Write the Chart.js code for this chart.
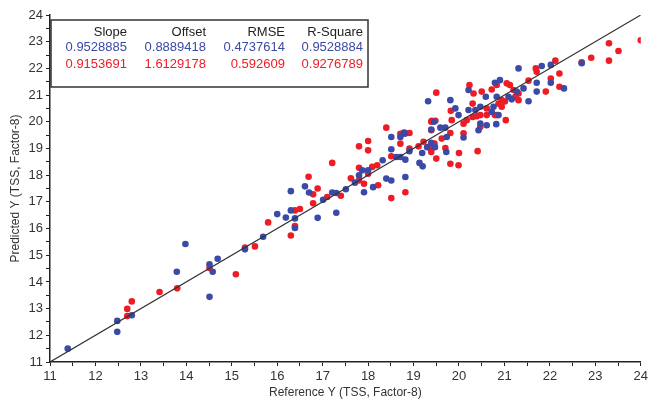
<!DOCTYPE html>
<html>
<head>
<meta charset="utf-8">
<script src="https://cdn.jsdelivr.net/npm/chart.js@4/dist/chart.umd.min.js"></script>
<style>
  html, body { margin: 0; padding: 0; background: #fff; }
  #wrap { width: 651px; height: 400px; position: relative; }
</style>
</head>
<body>
<div id="wrap"><canvas id="chart"></canvas></div>
<script>
// blue series (reference vs predicted)
const blueX = [11.39, 12.48, 12.48, 12.80, 13.79, 13.98, 14.51, 14.51, 14.58, 14.69, 15.29, 15.69, 16.00, 16.19, 16.39, 16.39, 16.30, 16.30, 16.61, 16.70,
  16.89, 17.01, 17.21, 17.30, 17.30, 17.51, 17.71, 17.80, 17.91, 17.87, 18.00, 18.11, 18.32, 18.40, 18.51, 18.51, 18.51, 18.71, 18.62, 18.79,
  18.82, 18.82, 18.91, 19.13, 19.20, 19.19, 19.39, 18.71, 18.81, 19.30, 19.47, 19.39, 19.45, 19.32, 19.59, 19.70, 19.73, 19.72, 19.81, 19.92,
  19.99, 20.10, 20.21, 20.21, 20.36, 20.47, 20.43, 20.59, 20.61, 20.47, 20.79, 20.83, 20.90, 20.76, 20.87, 20.72, 20.82, 21.09, 21.16, 21.31,
  21.42, 21.53, 21.71, 21.71, 21.82, 22.02, 22.02, 22.31, 22.70, 21.27];
const blueY = [11.50, 12.54, 12.13, 12.75, 14.38, 15.42, 13.44, 14.66, 14.38, 14.87, 15.22, 15.69, 16.54, 16.41, 16.02, 16.38, 16.68, 17.40, 17.58, 17.35,
  16.40, 17.08, 17.35, 16.59, 17.33, 17.47, 17.72, 17.99, 17.36, 18.18, 18.18, 17.55, 18.56, 17.87, 17.80, 19.43, 18.97, 18.68, 18.68, 19.60,
  18.58, 17.93, 18.90, 18.46, 18.33, 18.83, 19.71, 19.43, 19.55, 19.05, 19.05, 19.21, 20.00, 20.77, 19.78, 19.78, 19.43, 18.87, 20.81, 20.50,
  20.25, 19.41, 20.44, 21.19, 20.44, 20.56, 19.68, 20.94, 19.87, 19.93, 21.46, 20.94, 21.56, 20.56, 20.25, 20.37, 19.91, 20.94, 20.84, 22.00,
  21.25, 20.77, 21.46, 21.13, 22.09, 22.13, 21.46, 21.25, 22.19, 21.13];

// red series
const redX = [12.70, 12.70, 12.80, 13.41, 13.80, 14.51, 15.09, 15.29, 15.51, 15.80, 16.30, 16.39, 16.39, 16.50, 16.79, 16.79, 16.89, 16.69, 17.10, 17.21,
  17.40, 17.62, 17.80, 17.80, 17.91, 17.80, 18.00, 18.00, 18.00, 18.09, 18.20, 18.22, 18.40, 18.51, 18.51, 18.71, 18.71, 18.82, 18.91, 18.82,
  18.91, 19.11, 19.22, 19.39, 19.39, 19.39, 19.50, 19.46, 19.33, 19.40, 19.48, 19.39, 19.50, 19.62, 19.70, 19.81, 19.82, 19.84, 20.00, 19.81,
  19.99, 20.10, 20.10, 20.17, 20.23, 20.32, 20.30, 20.30, 20.39, 20.47, 20.41, 20.47, 20.50, 20.61, 20.61, 20.72, 20.83, 20.87, 20.94, 20.94,
  20.79, 21.01, 21.05, 21.12, 21.03, 21.20, 21.31, 21.31, 21.53, 21.71, 21.69, 21.91, 22.02, 22.12, 22.21, 22.21, 22.70, 22.91, 23.30, 23.51,
  23.30, 24.00, 21.24, 20.83];
const redY = [12.99, 12.72, 13.27, 13.62, 13.76, 14.52, 14.29, 15.29, 15.33, 16.23, 15.74, 16.09, 16.68, 16.73, 17.28, 16.95, 17.50, 17.94, 17.18, 18.46,
  17.23, 17.88, 17.80, 18.28, 17.68, 19.08, 19.28, 18.93, 18.05, 18.31, 18.37, 17.62, 19.78, 17.14, 18.71, 19.55, 19.18, 19.58, 19.58, 17.36,
  19.00, 19.08, 19.25, 20.00, 19.03, 18.87, 18.62, 19.18, 19.05, 20.04, 20.04, 19.68, 21.09, 19.37, 19.02, 19.58, 20.41, 20.06, 18.83, 18.43,
  18.37, 19.57, 19.93, 20.06, 21.38, 21.06, 20.68, 20.18, 20.21, 20.25, 18.90, 19.81, 21.13, 20.50, 20.25, 21.21, 21.38, 20.68, 20.81, 20.56,
  20.25, 20.76, 21.44, 21.38, 20.06, 21.19, 21.06, 20.81, 21.54, 21.87, 22.00, 21.13, 21.62, 22.29, 21.81, 21.31, 22.23, 22.40, 22.94, 22.65,
  22.29, 23.05, 20.94, 20.25];

// 1:1 line ends
const lineX = [11, 24];
const lineY = [11, 24];

// statistics inset
const statHeaders = ['Slope', 'Offset', 'RMSE', 'R-Square'];
const blueStats = ['0.9528885', '0.8889418', '0.4737614', '0.9528884'];
const redStats = ['0.9153691', '1.6129178', '0.592609', '0.9276789'];

const BLUE = '#3a4aa6';
const RED = '#ee1c25';
const AXIS = '#222';

function toPoints(xs, ys) {
  return xs.map((x, i) => ({ x: x, y: ys[i] }));
}

const statsBox = {
  id: 'statsBox',
  afterDraw(chart) {
    const ctx = chart.ctx;
    const area = chart.chartArea;
    const left = area.left + 1;
    const top = 20;
    const w = 317;
    const h = 67;
    ctx.save();
    ctx.fillStyle = '#fff';
    ctx.fillRect(left, top, w, h);
    ctx.strokeStyle = '#333';
    ctx.lineWidth = 1.5;
    ctx.strokeRect(left, top, w, h);
    ctx.font = '13px "Liberation Sans", Arial, sans-serif';
    ctx.textAlign = 'right';
    ctx.textBaseline = 'middle';
    const rights = [76, 155, 234, 312];
    const rows = [[statHeaders, '#222', 12], [blueStats, BLUE, 27.5], [redStats, RED, 44]];
    rows.forEach(([vals, color, dy]) => {
      ctx.fillStyle = color;
      vals.forEach((v, i) => ctx.fillText(v, left + rights[i], top + dy));
    });
    ctx.restore();
  }
};

const tickFont = { family: '"Liberation Sans", Arial, sans-serif', size: 13 };
const titleFont = { family: '"Liberation Sans", Arial, sans-serif', size: 12 };

function axisOptions(title) {
  return {
    type: 'linear',
    min: 11,
    max: 24,
    border: { color: AXIS, width: 1.5 },
    grid: { drawOnChartArea: false, drawTicks: true, tickLength: 4, color: AXIS, lineWidth: 1 },
    ticks: {
      stepSize: 0.5,
      autoSkip: false,
      maxRotation: 0,
      color: '#333',
      font: tickFont,
      callback: (v) => (Number.isInteger(v) ? v : '')
    },
    title: { display: true, text: title, color: '#333', font: titleFont }
  };
}

const xOpts = axisOptions('Reference Y (TSS, Factor-8)');
xOpts.title.padding = { top: 0, bottom: 0 };
xOpts.afterFit = (s) => { s.height = 38; };

const yOpts = axisOptions('Predicted Y (TSS, Factor-8)');
yOpts.title.padding = { top: 8, bottom: 0 };
yOpts.afterFit = (s) => { s.width = 50; };

new Chart(document.getElementById('chart'), {
  type: 'scatter',
  data: {
    datasets: [
      {
        type: 'line',
        label: '1:1',
        data: toPoints(lineX, lineY),
        borderColor: '#333',
        borderWidth: 1.2,
        pointRadius: 0,
        fill: false
      },
      {
        label: 'Blue',
        data: toPoints(blueX, blueY),
        backgroundColor: BLUE,
        borderWidth: 0,
        pointRadius: 3.3
      },
      {
        label: 'Red',
        data: toPoints(redX, redY),
        backgroundColor: RED,
        borderWidth: 0,
        pointRadius: 3.3
      }
    ]
  },
  options: {
    responsive: true,
    maintainAspectRatio: false,
    animation: false,
    layout: { padding: { top: 15, right: 8, left: 0, bottom: 0 } },
    plugins: { legend: { display: false }, tooltip: { enabled: false } },
    scales: { x: xOpts, y: yOpts }
  },
  plugins: [statsBox]
});
</script>
</body>
</html>
